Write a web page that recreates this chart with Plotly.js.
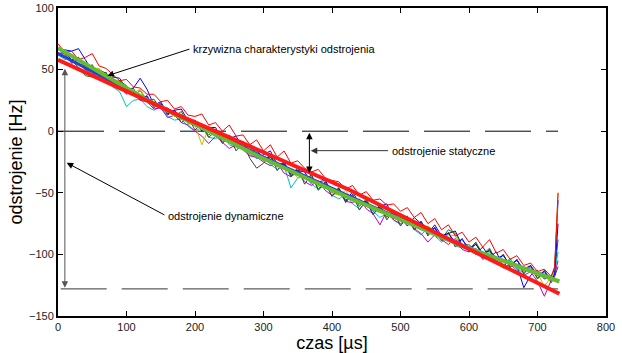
<!DOCTYPE html>
<html><head><meta charset="utf-8">
<script src="https://cdn.plot.ly/plotly-3.0.1.min.js"></script>
<style>html,body{margin:0;padding:0;background:#fff}#chart{width:622px;height:353px}</style>
</head><body><div id="chart"></div>
<script>
// time axis of the measured runs [µs]
const t = [0,10,20,30,40,50,60,70,80,90,100,110,120,130,140,150,160,170,180,190,200,210,220,230,240,250,260,270,280,290,300,310,320,330,340,350,360,370,380,390,400,410,420,430,440,450,460,470,480,490,500,510,520,530,540,550,560,570,580,590,600,610,620,630,640,650,660,670,680,690,700,710,720,725,730];

// measured detuning runs [Hz]
const runBlue = [66,66,65,67,58,49,49,41,44,43, 34,35,43,34,21,24,14,17,18,8, 9,0,3,3,-7,-6,-4,-14,-12,-22, -19,-16,-27,-26,-36,-32,-33,-42,-41,-40, -49,-47,-57,-49,-59,-58,-67,-61,-59,-71, -70,-77,-70,-75,-83,-76,-85,-83,-81,-93, -92,-100,-94,-102,-98,-110,-104,-109,-127,-117, -113,-120,-118, -112,-56];
const runGreen = [63,61,57,52,45,44,50,47,40,41, 37,29,33,25,26,18,19,12,16,6, 8,2,-3,1,-9,-3,-12,-8,-18,-14, -24,-19,-29,-25,-35,-30,-38,-36,-47,-41, -50,-46,-56,-52,-61,-55,-65,-60,-70,-64, -73,-69,-80,-73,-84,-78,-87,-80,-83,-92, -96,-90,-100,-95,-106,-100,-110,-104,-114,-110, -119,-113,-121, -115,-88];
const runCyan = [62,58,61,55,50,47,47,41,36,32, 20,25,26,20,17,20,12,9,10,4, 0,3,-5,-6,-3,-11,-13,-10,-19,-22, -20,-27,-31,-28,-46,-38,-36,-43,-47,-44, -52,-55,-51,-59,-63,-58,-65,-70,-67,-72, -76,-72,-80,-84,-79,-85,-90,-86,-93,-95, -92,-99,-103,-98,-106,-109,-104,-112,-115,-110, -119,-116,-121, -116,-98];
const runMagenta = [64,60,56,55,50,48,43,43,37,36, 30,33,25,24,18,19,11,13,7,5, 0,-4,-10,-4,-9,-14,-11,-15,-20,-21, -25,-28,-26,-34,-37,-33,-41,-44,-40,-48, -52,-49,-57,-58,-55,-63,-67,-76,-65,-72, -75,-71,-79,-83,-90,-84,-88,-92,-87,-96, -98,-95,-104,-101,-106,-111,-108,-113,-117,-114, -122,-134,-121, -117,-105];
const runOlive = [67,62,58,60,53,50,51,43,40,41, 33,31,34,25,20,22,16,12,14,6, 5,-11,2,-4,-7,-5,-13,-14,-10,-21, -20,-23,-29,-27,-32,-38,-35,-39,-45,-42, -50,-52,-48,-57,-59,-56,-64,-66,-61,-70, -73,-69,-76,-80,-77,-81,-88,-84,-85,-94, -92,-96,-101,-97,-104,-108,-103,-111,-114,-110, -115,-126,-118, -114,-50];
const runGray = [62,63,55,59,50,54,44,48,37,41, 31,35,25,29,19,23,13,17,7,11, 1,6,-5,0,-10,-4,-16,-9,-22,-30, -26,-19,-32,-25,-37,-30,-43,-35,-48,-41, -53,-46,-58,-51,-64,-56,-68,-60,-72,-64, -77,-69,-80,-73,-85,-78,-89,-82,-94,-87, -98,-91,-102,-96,-107,-100,-111,-104,-116,-109, -120,-113,-123, -118,-110];
const runBlue2 = [63,64,58,60,52,53,45,46,40,40, 33,33,28,28,21,22,16,17,10,10, 4,5,-1,0,-6,-5,-11,-10,-16,-16, -22,-21,-27,-27,-32,-32,-37,-38,-43,-43, -48,-48,-53,-54,-58,-57,-63,-62,-67,-67, -72,-70,-76,-74,-80,-79,-85,-83,-90,-88, -95,-92,-99,-97,-103,-101,-108,-105,-112,-109, -117,-114,-121, -116,-75];
const runRed = [71,64,65,58,60,63,53,51,46,41, 42,36,35,30,30,24,25,18,20,13, 12,14,5,7,0,5,-4,-3,-11,-7, -16,-11,-21,-16,-26,-24,-30,-33,-31,-38, -40,-41,-47,-44,-52,-49,-56,-55,-60,-59, -65,-62,-70,-66,-75,-71,-80,-76,-85,-82, -90,-86,-94,-88,-99,-96,-104,-101,-109,-107, -114,-112,-118, -110,-50];

// fitted characteristics
const meanT = [0,150,300,450,600,725];
const meanY = [63,20,-21,-59,-95,-120];
const greenT = [0,134,295,425,586,732];
const greenY = [67.5,24.2,-21,-54,-92,-122];
const redT = [0,180,425,732];
const redY = [58,12,-47.5,-132];

// reference levels (dashed)
const levelY = [0,-128];
const levelX = [[0,730],[4,730]];

const FONT = 'Liberation Sans, Arial, sans-serif';
const runs = [
  [runBlue,'#0000ff'],[runGreen,'#008000'],[runCyan,'#00bfbf'],
  [runMagenta,'#bf00bf'],[runOlive,'#bfbf00'],[runGray,'#404040'],[runBlue2,'#0000ff'],[runRed,'#ff0000']
];
const traces = [];
levelY.forEach((lv,i)=>traces.push({x:levelX[i], y:[lv,lv], type:'scatter', mode:'lines',
  line:{color:i?'#333':'#000', width:1, dash:'46px,15px'}, hoverinfo:'skip', showlegend:false}));
runs.forEach(r=>traces.push({x:t, y:r[0], type:'scatter', mode:'lines',
  line:{color:r[1], width:1}, hoverinfo:'skip', showlegend:false}));
traces.push({x:meanT, y:meanY, type:'scatter', mode:'lines', line:{color:'#2244cc', width:3}, showlegend:false});
traces.push({x:greenT, y:greenY, type:'scatter', mode:'lines', line:{color:'#66bb33', width:4}, showlegend:false});
traces.push({x:redT, y:redY, type:'scatter', mode:'lines', line:{color:'#ff1a1a', width:4}, showlegend:false});

function arrow(x,y,ax,ay,col,both){
  return {x:x,y:y,ax:ax,ay:ay,xref:'x',yref:'y',axref:'x',ayref:'y',text:'',showarrow:true,
    arrowhead:2,startarrowhead:2,arrowside:both?'end+start':'end',arrowsize:1.3,startarrowsize:1.3,arrowwidth:1,arrowcolor:col};
}
function label(x,y,txt){
  return {x:x,y:y,xref:'x',yref:'y',text:txt,showarrow:false,xanchor:'left',yanchor:'middle',
    font:{family:FONT,size:11,color:'#000'}};
}
const annotations = [
  arrow(10,-127,10,52,'#555',true),
  arrow(72,45,194,67,'#000',false),
  label(194,67,'krzywizna charakterystyki odstrojenia'),
  arrow(367,-34,367,0,'#000',true),
  arrow(369,-15.8,484,-15.8,'#333',false),
  label(484,-15.8,'odstrojenie statyczne'),
  arrow(12.7,-25.6,157.5,-68.6,'#000',false),
  label(157.5,-68.6,'odstrojenie dynamiczne')
];

const axisCommon = {showgrid:false, zeroline:false, showline:true, linecolor:'#000', linewidth:2,
  mirror:'ticks', ticks:'inside', ticklen:5, tickwidth:1, tickcolor:'#000',
  tickfont:{family:FONT,size:11,color:'#222'}};
const layout = {
  width:622, height:353, margin:{l:58,r:16,t:8,b:37},
  paper_bgcolor:'#fff', plot_bgcolor:'#fff', showlegend:false,
  font:{family:FONT,color:'#000'},
  xaxis:Object.assign({}, axisCommon, {range:[0,800], tick0:0, dtick:100,
    title:{text:'czas [µs]', font:{family:FONT,size:18,color:'#000'}, standoff:2}}),
  yaxis:Object.assign({}, axisCommon, {range:[-150,100], tick0:-150, dtick:50,
    title:{text:'odstrojenie [Hz]', font:{family:FONT,size:18,color:'#000'}, standoff:2}}),
  annotations:annotations
};
Plotly.newPlot('chart', traces, layout, {staticPlot:true, displayModeBar:false});
</script></body></html>
